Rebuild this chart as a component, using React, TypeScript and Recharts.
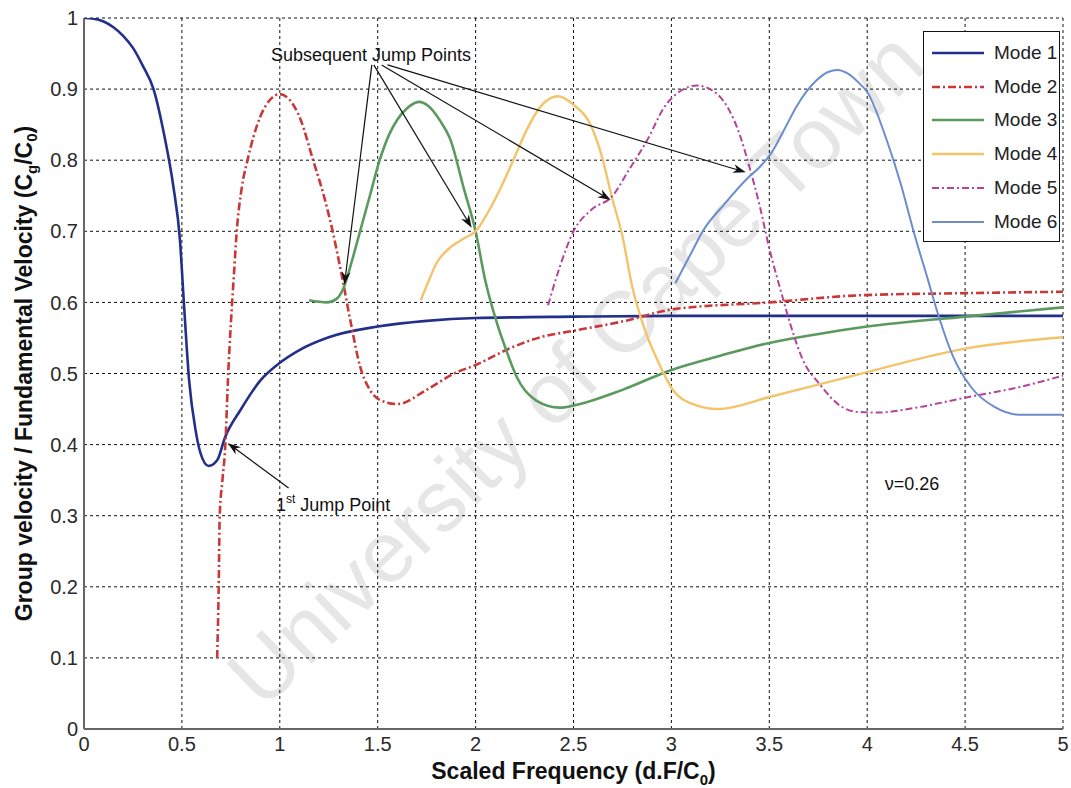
// @ts-nocheck
import { LineChart, Line, XAxis, YAxis, CartesianGrid, Legend, ReferenceLine, ReferenceDot } from 'recharts';

// values, [scaled frequency, Cg/C0]
const mode1 = [
  [0, 1], [0.05, 0.999], [0.1, 0.995], [0.15, 0.987], [0.2, 0.975], [0.25, 0.958], [0.3, 0.933],
  [0.355, 0.9], [0.41, 0.835], [0.457, 0.762], [0.49, 0.688], [0.51, 0.6], [0.537, 0.49],
  [0.57, 0.42], [0.595, 0.388], [0.636, 0.37], [0.68, 0.378], [0.72, 0.41], [0.8, 0.449],
  [0.9, 0.49], [1.0, 0.515], [1.1, 0.533], [1.25, 0.551], [1.5, 0.566], [1.75, 0.574],
  [2, 0.578], [2.5, 0.58], [3, 0.581], [4, 0.581], [5, 0.581],
];
const mode2 = [
  [0.68, 0.1], [0.688, 0.2], [0.693, 0.3], [0.707, 0.35], [0.722, 0.4], [0.735, 0.49],
  [0.75, 0.57], [0.765, 0.636], [0.78, 0.7], [0.805, 0.76], [0.835, 0.8], [0.9, 0.861],
  [0.95, 0.885], [1.0, 0.893], [1.05, 0.885], [1.105, 0.858], [1.17, 0.8], [1.225, 0.75],
  [1.27, 0.7], [1.315, 0.64], [1.36, 0.575], [1.41, 0.51], [1.46, 0.477], [1.51, 0.463],
  [1.6, 0.457], [1.75, 0.477], [1.89, 0.5], [2.0, 0.512], [2.18, 0.536], [2.33, 0.551],
  [2.5, 0.56], [2.78, 0.575], [3.0, 0.59], [3.5, 0.6], [3.96, 0.61], [4.5, 0.613], [5, 0.615],
];
const mode3 = [
  [1.15, 0.603], [1.24, 0.6], [1.29, 0.605], [1.325, 0.62], [1.37, 0.66], [1.41, 0.7],
  [1.46, 0.75], [1.51, 0.8], [1.56, 0.837], [1.6, 0.857], [1.65, 0.873], [1.71, 0.882],
  [1.76, 0.876], [1.82, 0.855], [1.87, 0.83], [1.94, 0.76], [2.0, 0.7], [2.05, 0.63],
  [2.11, 0.57], [2.16, 0.53], [2.21, 0.495], [2.31, 0.462], [2.43, 0.452], [2.5, 0.455],
  [2.75, 0.477], [3.0, 0.505], [3.25, 0.525], [3.5, 0.543], [3.76, 0.556], [4.0, 0.566],
  [4.5, 0.58], [5, 0.593],
];
const mode4 = [
  [1.72, 0.603], [1.76, 0.63], [1.8, 0.655], [1.87, 0.677], [1.94, 0.69], [2.0, 0.7],
  [2.07, 0.73], [2.14, 0.768], [2.2, 0.805], [2.26, 0.842], [2.33, 0.875], [2.38, 0.887],
  [2.42, 0.89], [2.5, 0.878], [2.59, 0.848], [2.64, 0.81], [2.7, 0.744], [2.75, 0.693],
  [2.8, 0.622], [2.86, 0.565], [2.93, 0.518], [3.01, 0.476], [3.1, 0.458], [3.24, 0.45],
  [3.5, 0.467], [3.76, 0.485], [4.0, 0.502], [4.5, 0.535], [5, 0.551],
];
const mode5 = [
  [2.37, 0.596], [2.43, 0.65], [2.5, 0.7], [2.59, 0.73], [2.7, 0.75], [2.78, 0.785],
  [2.88, 0.83], [2.96, 0.873], [3.05, 0.898], [3.13, 0.905], [3.22, 0.896], [3.29, 0.873],
  [3.35, 0.835], [3.4, 0.789], [3.45, 0.737], [3.5, 0.676], [3.56, 0.615], [3.61, 0.567],
  [3.67, 0.52], [3.76, 0.484], [3.86, 0.455], [3.95, 0.446], [4.05, 0.445], [4.27, 0.453],
  [4.5, 0.466], [4.78, 0.481], [5, 0.497],
];
const mode6 = [
  [3.02, 0.627], [3.11, 0.674], [3.16, 0.7], [3.27, 0.738], [3.39, 0.775], [3.45, 0.79],
  [3.51, 0.81], [3.58, 0.845], [3.64, 0.876], [3.74, 0.912], [3.8, 0.924], [3.85, 0.927],
  [3.9, 0.922], [3.96, 0.908], [4.0, 0.896], [4.1, 0.828], [4.17, 0.768], [4.24, 0.697],
  [4.31, 0.632], [4.36, 0.585], [4.44, 0.523], [4.53, 0.481], [4.65, 0.453], [4.78, 0.442],
  [5, 0.442],
];

const xTicks = [0, 0.5, 1, 1.5, 2, 2.5, 3, 3.5, 4, 4.5, 5];
const yTicks = [0, 0.1, 0.2, 0.3, 0.4, 0.5, 0.6, 0.7, 0.8, 0.9, 1];

// annotation arrows: start -> jump point
const jumpArrows = [
  [[1.47, 0.934], [1.33, 0.625]],
  [[1.48, 0.934], [1.98, 0.705]],
  [[1.52, 0.934], [2.69, 0.744]],
  [[1.55, 0.934], [3.38, 0.783]],
];
const firstJumpArrow = [[1.045, 0.339], [0.735, 0.402]];

const FONT = '"Liberation Sans", Arial, Helvetica, sans-serif';

const modes = [
  { name: 'Mode 1', data: mode1, color: '#22308a', width: 2.6 },
  { name: 'Mode 2', data: mode2, color: '#c93838', width: 2.6, dash: '8 3 2 3' },
  { name: 'Mode 3', data: mode3, color: '#5b9a5f', width: 2.6 },
  { name: 'Mode 4', data: mode4, color: '#f2c46b', width: 2.4 },
  { name: 'Mode 5', data: mode5, color: '#b3449a', width: 2, dash: '7 3 2 3' },
  { name: 'Mode 6', data: mode6, color: '#6d8dcc', width: 2 },
];

const toPoints = (arr) => arr.map(([x, y]) => ({ x, y }));

const Arrow = (props) => {
  const { x1, y1, x2, y2 } = props;
  const a = Math.atan2(y2 - y1, x2 - x1);
  const len = 13, half = 4.5;
  const bx = x2 - len * Math.cos(a), by = y2 - len * Math.sin(a);
  const px = -Math.sin(a) * half, py = Math.cos(a) * half;
  const nx = x2 - (len - 4) * Math.cos(a), ny = y2 - (len - 4) * Math.sin(a);
  return (
    <g>
      <line x1={x1} y1={y1} x2={nx} y2={ny} stroke="#111" strokeWidth={1.2} />
      <polygon points={`${x2},${y2} ${bx + px},${by + py} ${nx},${ny} ${bx - px},${by - py}`} fill="#111" />
    </g>
  );
};

const LegendBox = () => (
  <div style={{ border: '1px solid #111', background: '#fff', width: 137, height: 211, boxSizing: 'border-box', paddingTop: 4 }}>
    {modes.map((m) => (
      <div key={m.name} style={{ display: 'flex', alignItems: 'center', height: 33.8, fontFamily: FONT, fontSize: 19, color: '#222' }}>
        <svg width={64} height={10} style={{ marginLeft: 6 }}>
          <line x1={2} y1={5} x2={54} y2={5} stroke={m.color} strokeWidth={m.width} strokeDasharray={m.dash} />
        </svg>
        <span>{m.name}</span>
      </div>
    ))}
  </div>
);

const YTitle = ({ viewBox }) => {
  const cy = viewBox.y + viewBox.height / 2;
  return (
    <text x={32} y={cy} transform={`rotate(-90 32 ${cy})`} textAnchor="middle" fontFamily={FONT} fontSize={23} fontWeight="bold" fill="#111">
      Group velocity / Fundamental Velocity (C<tspan fontSize={15} dy={5}>g</tspan><tspan dy={-5}>/C</tspan><tspan fontSize={15} dy={5}>0</tspan><tspan dy={-5}>)</tspan>
    </text>
  );
};

const XTitle = ({ viewBox }) => {
  const cx = viewBox.x + viewBox.width / 2;
  return (
    <text x={cx} y={779} textAnchor="middle" fontFamily={FONT} fontSize={23} fontWeight="bold" fill="#111">
      Scaled Frequency (d.F/C<tspan fontSize={15} dy={6}>0</tspan><tspan dy={-6}>)</tspan>
    </text>
  );
};

export default function App() {
  return (
    <div style={{ position: 'absolute', left: 0, top: 0, width: 1071, height: 788, background: '#fff', overflow: 'hidden' }}>
      <div
        style={{
          position: 'absolute', left: 575, top: 368, transform: 'translate(-50%, -50%) rotate(-44deg)',
          fontFamily: FONT, fontSize: 86, lineHeight: 1, color: '#e6e6e6', whiteSpace: 'nowrap',
        }}
      >
        University of Cape Town
      </div>
      <div style={{ position: 'absolute', left: 0, top: 0 }}>
        <LineChart width={1071} height={788} margin={{ top: 18, right: 8, left: 0, bottom: 0 }}>
          <CartesianGrid stroke="#111" strokeDasharray="3 3" strokeWidth={1} />
          <XAxis
            type="number" dataKey="x" domain={[0, 5]} ticks={xTicks} height={59}
            allowDataOverflow tickSize={0} tickMargin={8}
            stroke="#666" strokeWidth={2}
            tick={{ fontFamily: FONT, fontSize: 20, fill: '#2a2a2a' }}
            label={{ content: XTitle }}
          />
          <YAxis
            type="number" domain={[0, 1]} ticks={yTicks} width={84}
            allowDataOverflow tickSize={0} tickMargin={6}
            stroke="#666" strokeWidth={2}
            tick={{ fontFamily: FONT, fontSize: 20, fill: '#2a2a2a' }}
            label={{ content: YTitle }}
          />
          {modes.map((m) => (
            <Line
              key={m.name} name={m.name} data={toPoints(m.data)} dataKey="y" type="monotone"
              stroke={m.color} strokeWidth={m.width} strokeDasharray={m.dash}
              dot={false} activeDot={false} isAnimationActive={false}
            />
          ))}
          {jumpArrows.map(([from, to], i) => (
            <ReferenceLine
              key={i} segment={[{ x: from[0], y: from[1] }, { x: to[0], y: to[1] }]}
              ifOverflow="visible" shape={Arrow}
            />
          ))}
          <ReferenceLine
            segment={[{ x: firstJumpArrow[0][0], y: firstJumpArrow[0][1] }, { x: firstJumpArrow[1][0], y: firstJumpArrow[1][1] }]}
            ifOverflow="visible" shape={Arrow}
          />
          <ReferenceDot
            x={0.955} y={0.94} r={0} ifOverflow="visible"
            shape={(p) => (
              <text x={p.cx} y={p.cy} fontFamily={FONT} fontSize={18} fill="#111">Subsequent Jump Points</text>
            )}
          />
          <ReferenceDot
            x={0.98} y={0.306} r={0} ifOverflow="visible"
            shape={(p) => (
              <text x={p.cx} y={p.cy} fontFamily={FONT} fontSize={18} fill="#111">
                1<tspan fontSize={12} dy={-8}>st</tspan><tspan dy={8}> Jump Point</tspan>
              </text>
            )}
          />
          <ReferenceDot
            x={4.09} y={0.336} r={0} ifOverflow="visible"
            shape={(p) => (
              <text x={p.cx} y={p.cy} fontFamily={FONT} fontSize={18} fill="#111">ν=0.26</text>
            )}
          />
          <Legend
            layout="vertical" align="center" verticalAlign="middle"
            content={LegendBox}
            wrapperStyle={{ position: 'absolute', left: 923, top: 31, width: 137, height: 211, margin: 0 }}
          />
        </LineChart>
      </div>
    </div>
  );
}
